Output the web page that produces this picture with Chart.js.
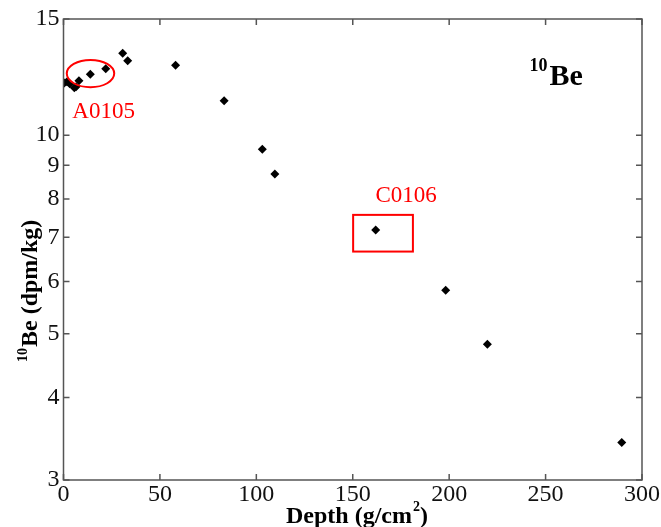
<!DOCTYPE html>
<html>
<head>
<meta charset="utf-8">
<script src="https://cdn.jsdelivr.net/npm/chart.js@4"></script>
<style>
  html, body { margin: 0; padding: 0; background: #fff; }
  #wrap { width: 661px; height: 527px; }
</style>
</head>
<body>
<div id="wrap"><canvas id="myChart" width="661" height="527"></canvas></div>
<script>
// depth (g/cm2) and 10Be (dpm/kg)
var depth = [0.4, 1.8, 3.2, 5.6, 6.5, 8.0, 13.9, 21.9, 30.7, 33.3, 58.1, 83.3, 103.1, 109.6, 161.9, 198.2, 219.8, 289.5];
var be10  = [12.0, 12.05, 11.96, 11.8, 11.84, 12.09, 12.37, 12.61, 13.31, 12.97, 12.76, 11.28, 9.52, 8.73, 7.18, 5.82, 4.82, 3.42];
var xTicks = [0, 50, 100, 150, 200, 250, 300];
var yTicks = [3, 4, 5, 6, 7, 8, 9, 10, 15];

// highlighted samples
var ellipseA = { x: [1.7, 26.3], y: [11.82, 13.0], label: 'A0105', lx: 4.6, ly: 10.6 };
var rectC = { x: [150.2, 181.2], y: [6.66, 7.57], label: 'C0106', lx: 161.8, ly: 7.93 };

var serif = '"Liberation Serif", "Times New Roman", serif';

var extras = {
  id: 'extras',
  afterDraw: function(chart) {
    var ctx = chart.ctx, a = chart.chartArea;
    var xs = chart.scales.x, ys = chart.scales.y;
    ctx.save();
    // frame
    ctx.strokeStyle = '#555';
    ctx.lineWidth = 1.5;
    ctx.strokeRect(a.left, a.top, a.right - a.left, a.bottom - a.top);
    // inward ticks on all four sides
    ctx.beginPath();
    xTicks.forEach(function(v) {
      var px = xs.getPixelForValue(v);
      ctx.moveTo(px, a.bottom); ctx.lineTo(px, a.bottom - 6);
      ctx.moveTo(px, a.top); ctx.lineTo(px, a.top + 6);
    });
    yTicks.forEach(function(v) {
      var py = ys.getPixelForValue(v);
      ctx.moveTo(a.left, py); ctx.lineTo(a.left + 6, py);
      ctx.moveTo(a.right, py); ctx.lineTo(a.right - 6, py);
    });
    ctx.stroke();

    // red annotations
    ctx.strokeStyle = '#f00';
    ctx.fillStyle = '#f00';
    ctx.lineWidth = 2;
    var x0 = xs.getPixelForValue(ellipseA.x[0]), x1 = xs.getPixelForValue(ellipseA.x[1]);
    var y0 = ys.getPixelForValue(ellipseA.y[1]), y1 = ys.getPixelForValue(ellipseA.y[0]);
    ctx.beginPath();
    ctx.ellipse((x0 + x1) / 2, (y0 + y1) / 2, (x1 - x0) / 2, (y1 - y0) / 2, 0, 0, Math.PI * 2);
    ctx.stroke();
    var rx0 = xs.getPixelForValue(rectC.x[0]), rx1 = xs.getPixelForValue(rectC.x[1]);
    var ry0 = ys.getPixelForValue(rectC.y[1]), ry1 = ys.getPixelForValue(rectC.y[0]);
    ctx.strokeRect(rx0, ry0, rx1 - rx0, ry1 - ry0);
    ctx.font = '23px ' + serif;
    ctx.textBaseline = 'alphabetic';
    ctx.textAlign = 'left';
    ctx.fillText(ellipseA.label, xs.getPixelForValue(ellipseA.lx), ys.getPixelForValue(ellipseA.ly));
    ctx.fillText(rectC.label, xs.getPixelForValue(rectC.lx), ys.getPixelForValue(rectC.ly));

    // panel label
    ctx.fillStyle = '#000';
    ctx.font = 'bold 18px ' + serif;
    ctx.fillText('10', a.left + 466, a.top + 52);
    ctx.font = 'bold 30px ' + serif;
    ctx.fillText('Be', a.left + 486, a.top + 66);

    // axis titles
    ctx.textAlign = 'center';
    ctx.font = 'bold 24px ' + serif;
    ctx.fillText('Depth (g/cm', 349, 523);
    var w = ctx.measureText('Depth (g/cm').width;
    ctx.textAlign = 'left';
    ctx.fillText(')', 349 + w / 2 + 8, 523);
    ctx.font = 'bold 14px ' + serif;
    ctx.fillText('2', 349 + w / 2 + 1, 511);

    ctx.translate(37, 286);
    ctx.rotate(-Math.PI / 2);
    ctx.font = 'bold 14px ' + serif;
    ctx.textAlign = 'left';
    ctx.fillText('10', -76, -10);
    ctx.font = 'bold 24px ' + serif;
    ctx.fillText('Be (dpm/kg)', -61, 0);
    ctx.restore();
  }
};

var ctx = document.getElementById('myChart').getContext('2d');
var myChart = new Chart(ctx, {
  type: 'scatter',
  data: {
    datasets: [{
      label: '10Be',
      data: depth.map(function(d, i) { return { x: d, y: be10[i] }; }),
      pointStyle: 'rectRot',
      pointRadius: 4.5,
      pointHoverRadius: 4.5,
      backgroundColor: '#000',
      borderColor: '#000',
      borderWidth: 0
    }]
  },
  options: {
    responsive: false,
    animation: false,
    layout: { padding: { left: 0, right: 19, top: 19, bottom: 0 } },
    scales: {
      x: {
        type: 'linear',
        min: 0,
        max: 300,
        afterBuildTicks: function(s) { s.ticks = xTicks.map(function(v) { return { value: v }; }); },
        afterFit: function(s) { s.height = 47; },
        grid: { display: false, drawTicks: false },
        border: { display: false },
        ticks: { color: '#111', padding: 0, font: { family: serif, size: 24 } }
      },
      y: {
        type: 'logarithmic',
        min: 3,
        max: 15,
        afterBuildTicks: function(s) { s.ticks = yTicks.map(function(v) { return { value: v }; }); },
        afterFit: function(s) { s.width = 63.5; },
        grid: { display: false, drawTicks: false },
        border: { display: false },
        ticks: {
          color: '#111', padding: 4, font: { family: serif, size: 24 },
          callback: function(v) { return String(v); }
        }
      }
    },
    plugins: {
      legend: { display: false },
      tooltip: { enabled: false }
    }
  },
  plugins: [extras]
});
</script>
</body>
</html>
